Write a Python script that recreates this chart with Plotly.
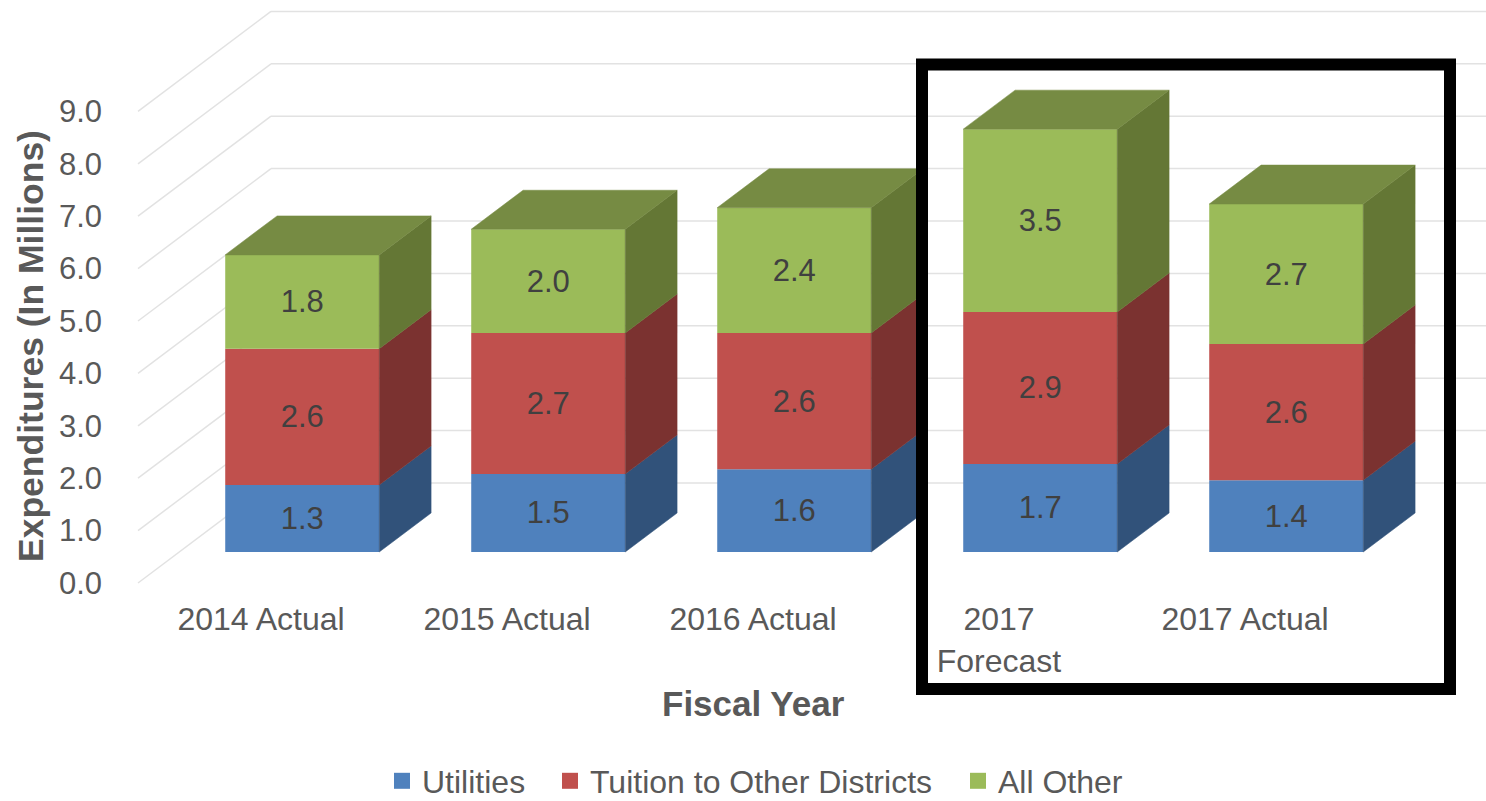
import plotly.graph_objects as go

# ---- data ----
categories = ["2014 Actual", "2015 Actual", "2016 Actual", "2017<br>Forecast", "2017 Actual"]
utilities = [1.28, 1.49, 1.58, 1.68, 1.37]
tuition = [2.60, 2.69, 2.60, 2.90, 2.60]
all_other = [1.79, 1.98, 2.39, 3.49, 2.67]
y_ticks = [0, 1, 2, 3, 4, 5, 6, 7, 8, 9]

series_names = ["Utilities", "Tuition to Other Districts", "All Other"]
series_values = [utilities, tuition, all_other]
front_colors = ["#4F81BD", "#C0504D", "#9BBB59"]
side_colors = ["#31527A", "#7B3230", "#647735"]
top_color = "#768B43"
grid_color = "#E2E2E2"
tick_color = "#595959"
label_color = "#404040"
FONT = "Liberation Sans, Arial, sans-serif"

# ---- page layout in pixels ----
W, H = 1486, 801
PLOT_L, PLOT_R, PLOT_T, PLOT_B = 103, 1486, 4, 597
CAT_STEP_PX, CAT0_PX = 246, 261
UNIT_PX, ZERO_PX = 52.4, 583


def xfrac(p):
    return (p - PLOT_L) / (PLOT_R - PLOT_L)


def yfrac(p):
    return (PLOT_B - p) / (PLOT_B - PLOT_T)


x_range = [(PLOT_L - CAT0_PX) / CAT_STEP_PX, (PLOT_R - CAT0_PX) / CAT_STEP_PX]
y_range = [(ZERO_PX - PLOT_B) / UNIT_PX, (ZERO_PX - PLOT_T) / UNIT_PX]

# oblique projection: depth 0 is the axis plane, depth 1 the back wall
DEPTH_X = 133 / CAT_STEP_PX
DEPTH_Y = 100 / UNIT_PX
BAR_FRONT = 0.31
BAR_DEPTH = 0.39
BAR_WIDTH = 154 / CAT_STEP_PX
dx = BAR_DEPTH * DEPTH_X
dy = BAR_DEPTH * DEPTH_Y

fig = go.Figure()

positions = [i + BAR_FRONT * DEPTH_X for i in range(len(categories))]
floor = BAR_FRONT * DEPTH_Y
bases = [floor] * len(categories)

for k, (name, vals) in enumerate(zip(series_names, series_values)):
    fig.add_trace(go.Bar(
        x=positions, y=vals, base=list(bases), width=BAR_WIDTH,
        marker=dict(color=front_colors[k], line=dict(width=0)),
        text=[f"{v:.1f}" for v in vals], textposition="inside",
        insidetextanchor="middle", textangle=0,
        constraintext="none",
        textfont=dict(family=FONT, size=31, color=label_color),
        name=name, showlegend=False, hoverinfo="skip",
    ))
    for x, b, v in zip(positions, bases, vals):
        xr = x + BAR_WIDTH / 2
        # side face
        fig.add_trace(go.Scatter(
            x=[xr, xr + dx, xr + dx, xr, xr],
            y=[b, b + dy, b + v + dy, b + v, b],
            mode="lines", fill="toself", fillcolor=side_colors[k],
            line=dict(color=side_colors[k], width=0.5),
            showlegend=False, hoverinfo="skip",
        ))
        if k == len(series_names) - 1:
            xl = x - BAR_WIDTH / 2
            t = b + v
            fig.add_trace(go.Scatter(
                x=[xl, xl + dx, xr + dx, xr, xl],
                y=[t, t + dy, t + dy, t, t],
                mode="lines", fill="toself", fillcolor=top_color,
                line=dict(color=top_color, width=0.5),
                showlegend=False, hoverinfo="skip",
            ))
    bases = [b + v for b, v in zip(bases, vals)]

# legend entries, one legend each so they sit where the reference has them
legend_left_px = [382, 550, 958]
legend_layouts = {}
for k, name in enumerate(series_names):
    key = "legend" if k == 0 else f"legend{k + 1}"
    fig.add_trace(go.Scatter(
        x=[None], y=[None], mode="markers", name=name, legend=key,
        marker=dict(symbol="square", size=16, color=front_colors[k]),
        hoverinfo="skip",
    ))
    legend_layouts[key] = dict(
        x=xfrac(legend_left_px[k]), xanchor="left",
        y=yfrac(781), yanchor="middle",
        bgcolor="rgba(0,0,0,0)", borderwidth=0,
        font=dict(family=FONT, size=32, color=tick_color),
    )

# wall gridlines
wall_x = -0.5
shapes = []
for t in y_ticks:
    line = dict(color=grid_color, width=1.5)
    shapes.append(dict(type="line", xref="x", yref="y", layer="below", line=line,
                       x0=wall_x, y0=t, x1=wall_x + DEPTH_X, y1=t + DEPTH_Y))
    shapes.append(dict(type="line", xref="x", yref="y", layer="below", line=line,
                       x0=wall_x + DEPTH_X, y0=t + DEPTH_Y,
                       x1=len(categories) - 0.5 + DEPTH_X, y1=t + DEPTH_Y))

# highlight frame
shapes.append(dict(type="rect", xref="paper", yref="paper", layer="above",
                   x0=xfrac(922), x1=xfrac(1450), y0=yfrac(689), y1=yfrac(64.5),
                   line=dict(color="#000000", width=12), fillcolor="rgba(0,0,0,0)"))

annotations = [
    dict(text="<b>Fiscal Year</b>", xref="paper", yref="paper",
         x=xfrac(753), y=yfrac(703), xanchor="center", yanchor="middle",
         showarrow=False, font=dict(family=FONT, size=35, color=tick_color)),
    dict(text="<b>Expenditures (In Millions)</b>", xref="paper", yref="paper",
         x=xfrac(31), y=yfrac(346), xanchor="center", yanchor="middle", textangle=-90,
         showarrow=False, font=dict(family=FONT, size=35.5, color=tick_color)),
]

fig.update_layout(
    width=W, height=H, autosize=False,
    margin=dict(l=PLOT_L, r=W - PLOT_R, t=PLOT_T, b=H - PLOT_B, pad=0, autoexpand=False),
    paper_bgcolor="white", plot_bgcolor="white",
    barmode="overlay", showlegend=True,
    shapes=shapes, annotations=annotations,
    xaxis=dict(range=x_range, tickmode="array", tickvals=list(range(len(categories))),
               ticktext=categories, ticks="", showgrid=False, zeroline=False, showline=False,
               tickangle=0, tickfont=dict(family=FONT, size=32, color=tick_color)),
    yaxis=dict(range=y_range, tickmode="array", tickvals=y_ticks,
               ticktext=[f"{t:.1f}" for t in y_ticks], ticks="", showgrid=False,
               zeroline=False, showline=False,
               tickfont=dict(family=FONT, size=31, color=tick_color)),
    **legend_layouts,
)

fig.write_html("out.html", post_script="document.body.style.margin='0';",
               config={"displayModeBar": False})
